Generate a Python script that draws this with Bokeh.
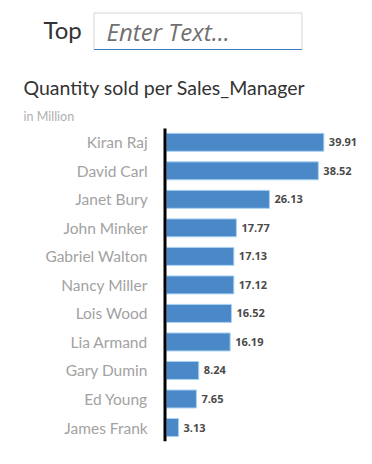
from bokeh.plotting import figure
from bokeh.models import ColumnDataSource, Range1d, Label, BoxAnnotation
from bokeh.core.properties import value
from bokeh.embed import file_html
from bokeh.resources import INLINE

# ---- data ----
managers = ["Kiran Raj", "David Carl", "Janet Bury", "John Minker", "Gabriel Walton",
            "Nancy Miller", "Lois Wood", "Lia Armand", "Gary Dumin", "Ed Young", "James Frank"]
quantity = [39.91, 38.52, 26.13, 17.77, 17.13, 17.12, 16.52, 16.19, 8.24, 7.65, 3.13]
title_text = "Quantity sold per Sales_Manager"
unit_text = "in Million"
filter_label = "Top"
placeholder = "Enter Text..."

W, H = 364, 456
rows = list(range(len(managers)))
source = ColumnDataSource(dict(
    y=rows, name=managers, qty=quantity,
    lab=[f"{v:.2f}" for v in quantity],
))

# scales: 3.95 px per unit, zero at x 165.7; row pitch 28.52 px, first row at y 141.8
xs = 3.95
x0 = 165.7
pitch = 28.52
y0 = 141.8

p = figure(width=W, height=H, output_backend="svg", toolbar_location=None,
           x_range=Range1d(-x0 / xs, (W - x0) / xs),
           y_range=Range1d((H - y0) / pitch, -y0 / pitch),
           x_axis_location=None, y_axis_location=None,
           min_border=0, outline_line_color=None)
p.xgrid.visible = False
p.ygrid.visible = False
p.background_fill_color = "white"
p.border_fill_color = "white"

p.hbar(y="y", left=0, right="qty", height=0.63, source=source,
       fill_color="#4a88c8", line_color="#a9d2f2", line_width=1)

# axis line
p.segment(x0=[-0.3], x1=[-0.3], y0=[-0.48], y1=[len(managers) - 0.52],
          line_color="black", line_width=3)

# category labels
p.text(x=0, y="y", text="name", source=source, x_offset=-18.5,
       text_align="right", text_baseline="middle",
       text_font=value("Lato"), text_font_size="15.5px", text_color="#a2a2a2")

# value labels
p.text(x="qty", y="y", text="lab", source=source, x_offset=5,
       text_align="left", text_baseline="middle",
       text_font=value("Open Sans"), text_font_style="bold",
       text_font_size="11px", text_color="#4a4a4a")

def sx(px):
    return px

def sy(py):
    return H - py

# header: "Top" and input box
p.add_layout(Label(x=sx(43), y=sy(29), x_units="screen", y_units="screen",
                   text=filter_label, text_font="Lato", text_font_size="24px",
                   text_color="#333333", text_baseline="middle", text_align="left"))
p.add_layout(BoxAnnotation(left=sx(93.5), right=sx(301.5), top=sy(12.5), bottom=sy(49),
                           left_units="screen", right_units="screen",
                           top_units="screen", bottom_units="screen",
                           fill_alpha=0, line_color="#7a7a7a", line_width=1))
p.add_layout(BoxAnnotation(left=sx(93.5), right=sx(301.5), top=sy(48.5), bottom=sy(49.5),
                           left_units="screen", right_units="screen",
                           top_units="screen", bottom_units="screen",
                           fill_color="#3f7fbf", fill_alpha=1, line_alpha=0))
p.add_layout(Label(x=sx(106), y=sy(31), x_units="screen", y_units="screen",
                   text=placeholder, text_font="Open Sans", text_font_style="italic",
                   text_font_size="24px", text_color="#707070",
                   text_baseline="middle", text_align="left"))

# title and subtitle
p.add_layout(Label(x=sx(23), y=sy(87), x_units="screen", y_units="screen",
                   text=title_text, text_font="Lato", text_font_size="19.5px",
                   text_color="#333333", text_baseline="middle", text_align="left"))
p.add_layout(Label(x=sx(23), y=sy(115.5), x_units="screen", y_units="screen",
                   text=unit_text, text_font="Lato", text_font_size="12.5px",
                   text_color="#b0b0b0", text_baseline="middle", text_align="left"))

open("out.html", "w").write(file_html(p, INLINE))
